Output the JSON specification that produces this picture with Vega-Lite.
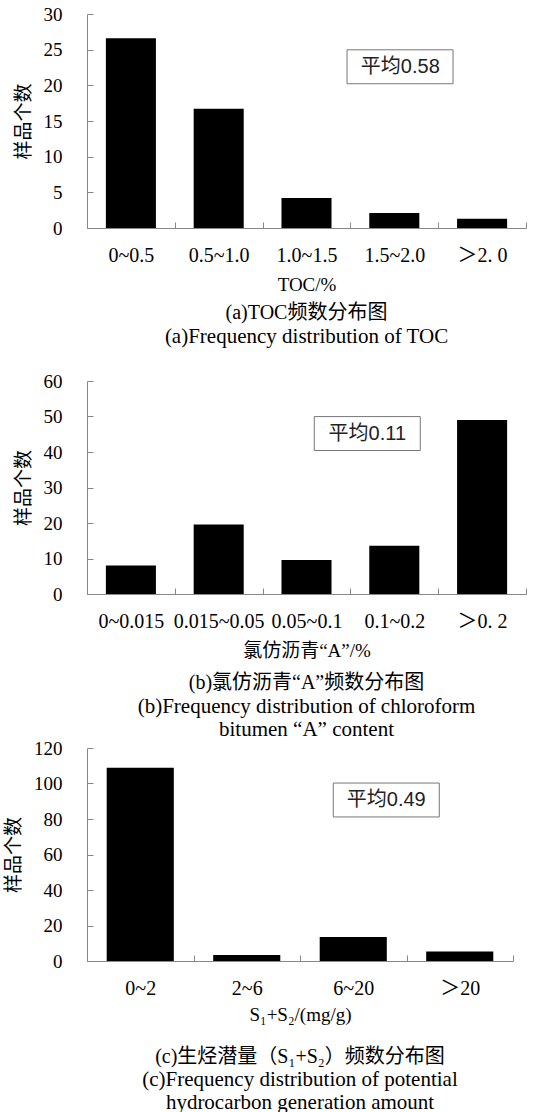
{
  "$schema": "https://vega.github.io/schema/vega-lite/v6.json",
  "background": "white",
  "padding": {"top": 5, "left": 4, "right": 0, "bottom": 0},
  "config": {
    "view": {"stroke": null},
    "axis": {
      "domainColor": "#888", "tickColor": "#888", "grid": false,
      "labelFont": "Liberation Serif, Noto Sans CJK SC", "labelFontSize": 19, "labelColor": "#000",
      "titleFont": "Liberation Serif, Noto Sans CJK SC", "titleFontSize": 19, "titleFontWeight": "normal", "titleColor": "#000"
    },
    "axisY": {"tickSize": -6, "labelPadding": 31, "titlePadding": 10, "labelBaseline": "middle"},
    "axisX": {"tickSize": -6, "labelPadding": 23, "titlePadding": 10, "labelAngle": 0, "tickBand": "extent", "labelFontSize": 20},
    "title": {
      "orient": "bottom", "anchor": "middle", "frame": "group",
      "font": "Liberation Serif, Noto Sans CJK SC", "fontSize": 20, "fontWeight": "normal", "color": "#000",
      "subtitleFont": "Liberation Serif, Noto Sans CJK SC", "subtitleFontSize": 21, "subtitleColor": "#000",
      "subtitlePadding": 0, "subtitleLineHeight": 23, "offset": 9
    }
  },
  "datasets": {
    "toc": [
      {"cat": "0~0.5", "n": 26.6},
      {"cat": "0.5~1.0", "n": 16.7},
      {"cat": "1.0~1.5", "n": 4.2},
      {"cat": "1.5~2.0", "n": 2.1},
      {"cat": "＞2. 0", "n": 1.3}
    ],
    "tocNote": [{"cat": "1.5~2.0", "n": 22.6, "label": "平均0.58"}],
    "asph": [
      {"cat": "0~0.015", "n": 8.0},
      {"cat": "0.015~0.05", "n": 19.6},
      {"cat": "0.05~0.1", "n": 9.6},
      {"cat": "0.1~0.2", "n": 13.6},
      {"cat": "＞0. 2", "n": 49.0}
    ],
    "asphNote": [{"cat": "0.1~0.2", "n": 45.2, "label": "平均0.11"}],
    "s12": [
      {"cat": "0~2", "n": 108.9},
      {"cat": "2~6", "n": 3.4},
      {"cat": "6~20", "n": 13.5},
      {"cat": "＞20", "n": 5.3}
    ],
    "s12Note": [{"cat": "6~20", "n": 90.7, "label": "平均0.49"}]
  },
  "concat": [
    {
      "width": 439, "height": 214,
      "title": {"text": "(a)TOC频数分布图", "subtitle": "(a)Frequency distribution of TOC"},
      "encoding": {
        "x": {"field": "cat", "type": "nominal", "title": "TOC/%",
              "scale": {"domain": ["0~0.5", "0.5~1.0", "1.0~1.5", "1.5~2.0", "＞2. 0"], "paddingInner": 0, "paddingOuter": 0}},
        "y": {"field": "n", "type": "quantitative", "title": "样品个数",
              "scale": {"domain": [0, 30], "nice": false},
              "axis": {"values": [0, 5, 10, 15, 20, 25, 30]}}
      },
      "layer": [
        {"data": {"name": "toc"}, "mark": {"type": "bar", "color": "#000", "width": {"band": 0.57}}},
        {"data": {"name": "tocNote"}, "mark": {"type": "point", "shape": "M-0.892,-0.32H1.108V0.32H-0.892Z", "size": 11236, "filled": false, "stroke": "#777", "strokeWidth": 1, "opacity": 1}},
        {"data": {"name": "tocNote"}, "mark": {"type": "text", "dx": 6, "baseline": "middle", "align": "center", "font": "Liberation Sans, Noto Sans CJK SC", "fontSize": 20, "color": "#222"},
         "encoding": {"text": {"field": "label"}}}
      ]
    },
    {
      "columns": 1, "spacing": -1, "align": "none",
      "concat": [
        {
          "width": 439, "height": 213,
          "title": {"text": "(b)氯仿沥青“A”频数分布图", "subtitle": ["(b)Frequency distribution of chloroform", "bitumen “A” content"], "offset": 13},
          "encoding": {
            "x": {"field": "cat", "type": "nominal", "title": "氯仿沥青“A”/%",
                  "scale": {"domain": ["0~0.015", "0.015~0.05", "0.05~0.1", "0.1~0.2", "＞0. 2"], "paddingInner": 0, "paddingOuter": 0}},
            "y": {"field": "n", "type": "quantitative", "title": "样品个数",
                  "scale": {"domain": [0, 60], "nice": false},
                  "axis": {"values": [0, 10, 20, 30, 40, 50, 60]}}
          },
          "layer": [
            {"data": {"name": "asph"}, "mark": {"type": "bar", "color": "#000", "width": {"band": 0.57}}},
            {"data": {"name": "asphNote"}, "mark": {"type": "point", "shape": "M-1.51,-0.32H0.49V0.32H-1.51Z", "size": 11236, "filled": false, "stroke": "#777", "strokeWidth": 1, "opacity": 1}},
            {"data": {"name": "asphNote"}, "mark": {"type": "text", "dx": -27, "baseline": "middle", "align": "center", "font": "Liberation Sans, Noto Sans CJK SC", "fontSize": 20, "color": "#222"},
             "encoding": {"text": {"field": "label"}}}
          ]
        },
        {
          "width": 426, "height": 213,
          "title": {"text": "(c)生烃潜量（S₁+S₂）频数分布图", "subtitle": ["(c)Frequency distribution of potential", "hydrocarbon generation amount"], "offset": 23, "subtitlePadding": 2},
          "encoding": {
            "x": {"field": "cat", "type": "nominal", "title": "S₁+S₂/(mg/g)",
                  "axis": {"titlePadding": 7},
                  "scale": {"domain": ["0~2", "2~6", "6~20", "＞20"], "paddingInner": 0, "paddingOuter": 0}},
            "y": {"field": "n", "type": "quantitative", "title": "样品个数",
                  "scale": {"domain": [0, 120], "nice": false},
                  "axis": {"values": [0, 20, 40, 60, 80, 100, 120]}}
          },
          "layer": [
            {"data": {"name": "s12"}, "mark": {"type": "bar", "color": "#000", "width": {"band": 0.63}}},
            {"data": {"name": "s12Note"}, "mark": {"type": "point", "shape": "M-0.377,-0.32H1.623V0.32H-0.377Z", "size": 11236, "filled": false, "stroke": "#777", "strokeWidth": 1, "opacity": 1}},
            {"data": {"name": "s12Note"}, "mark": {"type": "text", "dx": 33, "baseline": "middle", "align": "center", "font": "Liberation Sans, Noto Sans CJK SC", "fontSize": 20, "color": "#222"},
             "encoding": {"text": {"field": "label"}}}
          ]
        }
      ]
    }
  ],
  "columns": 1, "spacing": 25, "align": "none"
}
